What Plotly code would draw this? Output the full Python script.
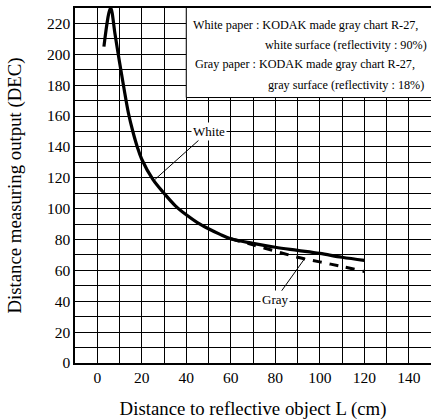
import plotly.graph_objects as go

# Data
white_x = [3, 6, 8, 10, 12, 14, 16, 18, 20, 25, 30, 35, 40, 45, 50, 55, 60, 70, 80, 90, 100, 110, 120]
white_y = [205, 230, 213, 195, 178, 162, 150, 140, 132, 119, 110, 102, 96, 91, 87, 83.5, 80.5, 77.5, 75, 73, 71, 68.5, 66.5]

gray_x = [60, 70, 80, 90, 100, 110, 120]
gray_y = [80.5, 76.5, 72.5, 68.5, 65.5, 62.5, 59.3]

x_ticks = [0, 20, 40, 60, 80, 100, 120, 140]
y_ticks = [0, 20, 40, 60, 80, 100, 120, 140, 160, 180, 200, 220]

legend_lines = [
    "White paper : KODAK made gray chart R-27,",
    "white surface (reflectivity : 90%)",
    "Gray paper : KODAK made gray chart R-27,",
    "gray surface (reflectivity : 18%)",
]

FONT = "Liberation Serif"

fig = go.Figure()
fig.add_trace(go.Scatter(x=gray_x, y=gray_y, mode="lines",
                         line=dict(color="black", width=3, dash="9px,8px"),
                         line_shape="spline", showlegend=False))
fig.add_trace(go.Scatter(x=white_x, y=white_y, mode="lines",
                         line=dict(color="black", width=3.2),
                         line_shape="spline", showlegend=False))

# legend box
fig.add_shape(type="rect", xref="x", yref="y", x0=40, y0=172, x1=151, y1=231,
              fillcolor="white", line=dict(color="black", width=1), layer="above")

pos = [(42.0, 219.0, "left"), (149.1, 206.0, "right"), (42.9, 194.0, "left"), (147.8, 180.0, "right")]
for (px, py, anc), txt in zip(pos, legend_lines):
    fig.add_annotation(x=px, y=py, xref="x", yref="y", text=txt, showarrow=False,
                       xanchor=anc, yanchor="middle",
                       font=dict(family=FONT, size=12.2, color="black"))

# curve labels (x,y = arrow head on curve, ax,ay = label position)
fig.add_annotation(x=26, y=119, xref="x", yref="y", text="White",
                   ax=50, ay=150, axref="x", ayref="y", showarrow=True, arrowhead=0,
                   arrowwidth=1, arrowcolor="black", bgcolor="white", borderpad=1,
                   font=dict(family=FONT, size=13, color="black"))
fig.add_annotation(x=93.4, y=68, xref="x", yref="y", text="Gray",
                   ax=80, ay=41, axref="x", ayref="y", showarrow=True, arrowhead=0,
                   arrowwidth=1, arrowcolor="black", bgcolor="white", borderpad=1,
                   font=dict(family=FONT, size=13, color="black"))

fig.update_xaxes(range=[-10, 150], tickvals=x_ticks, ticks="", showgrid=True,
                 gridcolor="black", gridwidth=1, zeroline=False,
                 minor=dict(dtick=10, tick0=0, showgrid=True, gridcolor="black", gridwidth=1),
                 showline=True, linecolor="black", linewidth=1.5, mirror=True,
                 tickfont=dict(family=FONT, size=15.5, color="black"),
                 title=dict(text="Distance to reflective object L (cm)", standoff=18,
                            font=dict(family=FONT, size=18.8, color="black")))
fig.update_yaxes(range=[0, 230], tickvals=y_ticks, ticks="", showgrid=True,
                 gridcolor="black", gridwidth=1, zeroline=False,
                 minor=dict(dtick=10, tick0=0, showgrid=True, gridcolor="black", gridwidth=1),
                 showline=True, linecolor="black", linewidth=1.5, mirror=True,
                 tickfont=dict(family=FONT, size=15.5, color="black"),
                 title=dict(text="Distance measuring output (DEC)", standoff=20,
                            font=dict(family=FONT, size=18.8, color="black")))

fig.update_layout(width=431, height=420, margin=dict(l=75, r=0, t=8, b=57, autoexpand=False),
                  plot_bgcolor="white", paper_bgcolor="white")

fig.write_html("out.html", config={"displayModeBar": False},
               post_script="document.body.style.margin='0';document.body.style.overflow='hidden';")
